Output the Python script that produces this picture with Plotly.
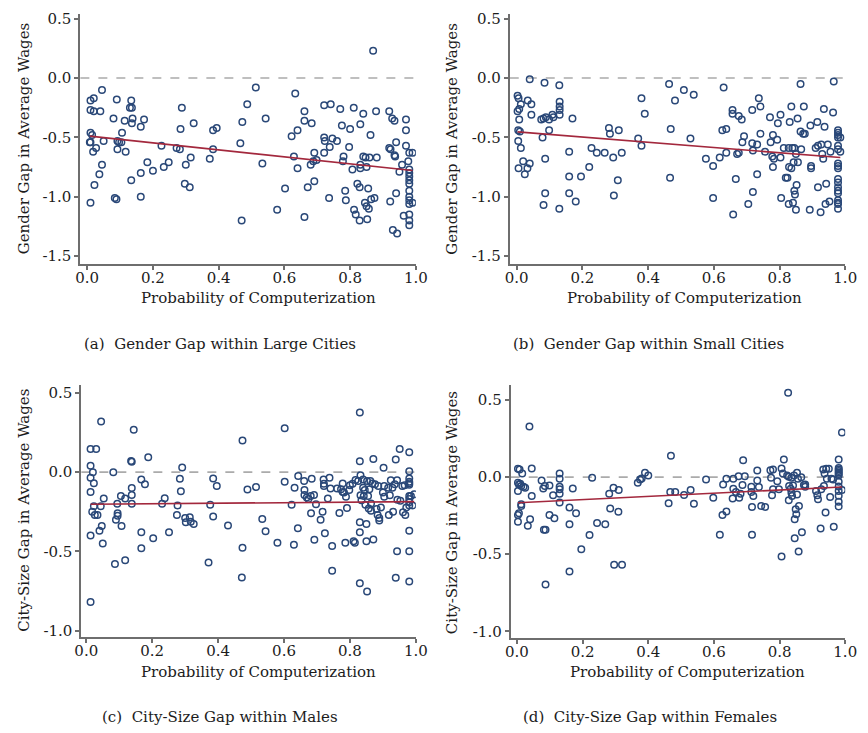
import plotly.graph_objects as go

# ---------------- data ----------------
xa = [0.01,0.02,0.01,0.02,0.045,0.04,0.01,0.015,0.008,0.01,0.018,0.027,0.05,0.045,0.037,0.022,0.01,
      0.09,0.08,0.092,0.097,0.104,0.092,0.106,0.117,0.114,0.134,0.136,0.13,0.138,0.136,0.173,0.163,0.134,0.163,0.084,0.089,0.163,0.183,0.2,
      0.226,0.233,0.248,0.272,0.282,0.284,0.288,0.3,0.297,0.312,0.315,0.324,0.373,0.383,0.383,0.394,
      0.466,0.472,0.47,0.487,0.513,0.533,0.543,0.578,0.602,0.622,0.629,0.633,0.64,0.64,0.661,0.661,0.661,0.671,0.68,0.683,0.688,0.691,0.691,0.698,
      0.721,0.721,0.723,0.721,0.738,0.741,0.736,0.746,0.76,0.77,0.775,0.778,0.78,0.785,0.787,0.8,0.797,0.807,0.811,0.812,0.817,0.822,0.829,0.829,0.831,0.831,0.831,
      0.84,0.84,0.847,0.845,0.85,0.85,0.852,0.855,0.857,0.859,0.862,0.864,0.87,0.874,0.879,0.881,
      0.919,0.919,0.923,0.922,0.928,0.93,0.935,0.935,0.937,0.94,0.94,0.943,0.95,0.958,0.963,0.97,0.97,0.97,0.977,
      0.98,0.98,0.98,0.98,0.98,0.98,0.98,0.98,0.98,0.98,0.98,0.98,0.98,0.99,0.99]
ya = [-0.19,-0.17,-0.27,-0.28,-0.10,-0.28,-0.46,-0.48,-0.54,-0.54,-0.62,-0.59,-0.53,-0.73,-0.81,-0.90,-1.05,
      -0.18,-0.34,-0.53,-0.54,-0.54,-0.60,-0.46,-0.62,-0.36,-0.19,-0.25,-0.25,-0.34,-0.38,-0.35,-0.41,-0.86,-0.80,-1.01,-1.02,-1.00,-0.71,-0.78,
      -0.57,-0.75,-0.71,-0.59,-0.60,-0.43,-0.25,-0.73,-0.89,-0.92,-0.67,-0.38,-0.68,-0.60,-0.44,-0.42,
      -0.55,-0.37,-1.20,-0.22,-0.08,-0.72,-0.34,-1.11,-0.93,-0.49,-0.66,-0.13,-0.44,-0.76,-0.28,-0.36,-1.17,-0.92,-0.73,-0.38,-0.70,-0.63,-0.87,-0.69,
      -0.23,-0.50,-0.53,-0.63,-0.58,-0.22,-1.01,-0.51,-0.53,-0.26,-0.40,-0.70,-0.66,-0.95,-1.03,-0.43,-0.58,-0.77,-0.25,-1.11,-1.15,-0.89,-0.92,-1.20,-0.39,-0.73,-0.76,
      -0.30,-0.66,-0.67,-1.05,-0.75,-1.08,-1.19,-0.93,-1.10,-0.67,-0.48,-1.02,0.23,-1.01,-0.28,-0.67,
      -0.28,-0.59,-0.60,-1.04,-0.34,-1.28,-0.36,-0.65,-0.66,-0.54,-0.97,-1.31,-0.79,-0.73,-1.16,-0.35,-0.57,-0.44,-0.70,
      -0.77,-0.80,-0.83,-0.86,-0.89,-0.95,-1.00,-1.03,-1.06,-1.15,-1.20,-1.24,-0.63,-0.63,-1.05]

xb = [0.003,0.006,0.003,0.008,0.013,0.008,0.005,0.01,0.005,0.013,0.006,0.02,0.025,0.033,0.04,0.034,0.045,0.04,0.045,
      0.075,0.082,0.085,0.079,0.087,0.087,0.082,0.089,0.099,0.099,0.109,0.112,0.13,0.131,0.131,0.131,0.131,0.13,
      0.16,0.16,0.16,0.17,0.18,0.196,0.221,0.228,0.244,0.268,0.281,0.284,0.294,0.296,0.308,0.311,0.32,
      0.37,0.38,0.38,0.39,0.464,0.469,0.467,0.482,0.509,0.529,0.539,0.576,0.598,0.598,
      0.618,0.626,0.63,0.638,0.638,0.657,0.657,0.659,0.667,0.671,0.676,0.676,0.685,0.687,0.692,0.705,
      0.717,0.717,0.719,0.719,0.732,0.732,0.737,0.742,0.742,0.756,0.771,0.773,0.778,0.78,0.783,0.78,0.793,0.795,
      0.803,0.803,0.805,0.813,0.819,0.824,0.828,0.828,0.829,0.831,0.836,0.836,0.839,0.841,0.843,0.845,0.845,0.847,0.85,0.85,0.852,0.855,0.856,
      0.864,0.864,0.866,0.872,0.874,0.877,0.892,0.894,0.896,0.896,0.91,0.915,0.917,0.917,0.925,0.927,0.93,0.933,0.935,0.937,0.94,0.942,0.947,0.952,0.955,0.963,0.965,
      0.978,0.978,0.978,0.978,0.978,0.978,0.978,0.978,0.978,0.978,0.978,0.978,0.978,0.978,0.978,0.978,0.978,0.978,0.985,0.985]
yb = [-0.15,-0.17,-0.28,-0.26,-0.22,-0.35,-0.44,-0.45,-0.53,-0.59,-0.76,-0.70,-0.81,-0.76,-0.72,-0.19,-0.22,-0.01,-0.31,
      -0.35,-0.34,-0.04,-0.50,-0.68,-0.97,-1.07,-0.33,-0.35,-0.44,-0.31,-0.33,-0.06,-0.20,-0.24,-0.27,-0.31,-1.10,
      -0.62,-0.83,-0.97,-0.34,-1.04,-0.83,-0.75,-0.59,-0.63,-0.63,-0.42,-0.47,-0.67,-0.99,-0.86,-0.44,-0.63,
      -0.51,-0.57,-0.17,-0.30,-0.05,-0.43,-0.84,-0.19,-0.10,-0.51,-0.14,-0.68,-0.74,-1.01,
      -0.67,-0.44,-0.08,-0.43,-0.63,-0.27,-0.30,-1.15,-0.85,-0.64,-0.32,-0.63,-0.35,-0.54,-0.49,-1.06,
      -0.27,-0.55,-0.61,-0.96,-0.56,-0.81,-0.17,-0.24,-0.47,-0.62,-0.33,-0.54,-0.66,-0.48,-0.68,-0.75,-0.52,-0.38,
      -0.31,-0.67,-1.01,-0.59,-0.84,-0.84,-0.59,-1.06,-0.75,-0.37,-0.24,-0.76,-0.59,-1.05,-0.71,-0.59,-0.95,-0.98,-1.11,-0.64,-0.90,-0.34,-0.71,
      -0.05,-0.45,-0.60,-0.47,-0.24,-0.47,-1.11,-0.40,-0.74,-0.76,-0.59,-0.37,-0.57,-0.92,-1.13,-0.56,-0.64,-0.68,-0.26,-0.41,-1.06,-0.89,-0.56,-1.04,-0.62,-0.29,-0.03,
      -0.44,-0.46,-0.48,-0.50,-0.57,-0.60,-0.72,-0.74,-0.76,-0.85,-0.88,-0.92,-0.95,-0.97,-1.03,-1.05,-1.06,-1.10,-0.50,-0.62]

xc = [0.013,0.03,0.013,0.013,0.02,0.023,0.013,0.018,0.023,0.026,0.034,0.045,0.053,0.044,0.04,0.047,0.05,0.013,0.013,
      0.082,0.087,0.09,0.094,0.095,0.095,0.105,0.107,0.118,0.118,0.136,0.138,0.138,0.138,0.138,0.144,0.167,0.167,0.167,0.178,0.188,0.203,
      0.23,0.238,0.251,0.275,0.277,0.284,0.287,0.291,0.3,0.302,0.314,0.317,0.326,0.371,0.376,0.385,0.385,0.396,0.43,
      0.472,0.474,0.474,0.489,0.515,0.534,0.544,0.58,0.602,0.602,0.623,0.63,0.632,0.642,0.643,
      0.661,0.662,0.662,0.669,0.674,0.681,0.682,0.684,0.691,0.692,0.697,0.711,0.717,0.72,0.721,0.721,0.724,0.733,0.738,0.741,0.746,0.746,
      0.761,0.768,0.773,0.778,0.778,0.782,0.786,0.788,0.791,0.798,0.8,0.808,0.811,0.815,0.817,0.825,
      0.83,0.83,0.83,0.83,0.83,0.832,0.832,0.835,0.84,0.84,0.842,0.845,0.847,0.85,0.85,0.852,0.852,0.855,0.857,0.859,0.862,0.864,0.864,0.868,0.871,0.871,0.876,
      0.881,0.884,0.886,0.889,0.889,0.894,0.9,0.902,0.904,0.904,0.916,0.918,0.921,0.924,0.929,0.931,0.936,0.939,0.939,0.943,0.943,0.944,0.951,0.953,0.959,0.961,0.966,0.968,0.971,
      0.98,0.98,0.98,0.98,0.98,0.98,0.98,0.98,0.98,0.98,0.98,0.98,0.98,0.985,0.99,0.995]
yc = [0.146,0.146,0.04,-0.035,0.0,-0.07,-0.125,-0.25,-0.215,-0.27,-0.27,0.32,-0.167,-0.215,-0.37,-0.34,-0.45,-0.40,-0.82,
      0.0,-0.58,-0.30,-0.20,-0.26,-0.275,-0.15,-0.34,-0.167,-0.556,0.07,0.065,-0.10,-0.145,-0.20,0.267,-0.046,-0.38,-0.48,-0.077,0.094,-0.417,
      -0.20,-0.165,-0.38,-0.27,-0.21,-0.042,-0.12,0.03,-0.29,-0.317,-0.285,-0.313,-0.327,-0.57,-0.206,-0.04,-0.28,-0.087,-0.337,
      -0.665,0.2,-0.477,-0.11,-0.094,-0.296,-0.373,-0.446,0.277,-0.06,-0.206,-0.458,-0.098,-0.354,-0.025,
      -0.056,-0.112,-0.144,-0.16,-0.17,-0.15,-0.26,-0.042,-0.144,-0.427,-0.202,-0.30,-0.25,-0.046,-0.087,-0.073,-0.385,-0.167,-0.035,-0.104,-0.467,-0.623,
      -0.104,-0.258,-0.108,-0.125,-0.071,-0.129,-0.446,-0.156,-0.227,-0.112,-0.083,-0.073,-0.437,-0.446,-0.05,-0.056,
      0.377,0.069,-0.317,-0.379,-0.702,-0.019,-0.146,-0.177,-0.046,-0.098,-0.15,-0.112,-0.206,-0.327,-0.437,-0.754,-0.056,-0.15,-0.229,-0.108,-0.056,-0.198,-0.244,-0.071,0.083,-0.425,-0.077,
      -0.233,-0.27,-0.087,-0.306,-0.29,-0.223,-0.129,0.027,-0.087,-0.156,-0.098,-0.27,-0.146,-0.052,-0.098,-0.25,-0.077,0.079,-0.667,-0.5,-0.052,-0.175,0.146,-0.181,-0.087,-0.254,-0.083,-0.27,-0.223,
      0.125,0.006,-0.04,-0.06,-0.07,-0.08,-0.15,-0.17,-0.19,-0.21,-0.37,-0.50,-0.69,-0.15,-0.21,-0.14]

xd = [0.003,0.008,0.003,0.006,0.003,0.013,0.01,0.016,0.02,0.025,0.003,0.006,0.003,0.013,0.013,0.033,0.04,0.038,0.045,0.045,
      0.075,0.08,0.085,0.082,0.087,0.087,0.099,0.099,0.11,0.114,0.13,0.13,0.13,0.13,0.13,0.13,
      0.16,0.16,0.16,0.17,0.18,0.196,0.221,0.229,0.244,0.269,0.281,0.284,0.294,0.296,0.309,0.31,0.32,
      0.368,0.375,0.38,0.39,0.4,0.462,0.467,0.469,0.482,0.509,0.529,0.539,0.576,0.598,
      0.618,0.626,0.628,0.638,0.638,0.657,0.659,0.659,0.667,0.675,0.677,0.681,0.687,0.689,0.694,
      0.714,0.714,0.716,0.716,0.72,0.732,0.732,0.737,0.744,0.756,0.772,0.774,0.777,0.78,0.78,0.793,0.798,
      0.806,0.806,0.81,0.813,0.823,0.826,0.828,0.828,0.829,0.834,0.836,0.836,0.838,0.841,0.844,0.846,0.846,0.849,0.851,0.853,0.853,0.856,0.858,0.859,0.866,0.868,0.874,0.878,0.878,
      0.911,0.915,0.917,0.925,0.927,0.933,0.935,0.937,0.94,0.942,0.944,0.95,0.954,0.958,0.963,0.965,
      0.98,0.98,0.98,0.98,0.98,0.98,0.98,0.98,0.98,0.98,0.98,0.98,0.98,0.99,0.99]
yd = [0.054,0.049,-0.036,-0.047,-0.09,-0.058,-0.043,0.024,-0.062,-0.069,-0.245,-0.234,-0.29,-0.176,-0.187,-0.316,-0.273,0.328,0.056,-0.122,
      -0.021,-0.073,-0.058,-0.341,-0.341,-0.697,-0.054,-0.245,-0.118,-0.266,0.024,-0.011,-0.062,-0.079,-0.107,-0.165,
      -0.197,-0.305,-0.612,-0.073,-0.234,-0.468,-0.375,-0.004,-0.298,-0.305,-0.107,-0.204,-0.069,-0.569,-0.225,-0.084,-0.569,
      -0.036,-0.015,-0.009,0.028,0.011,-0.17,-0.097,0.139,-0.097,-0.116,-0.084,-0.172,-0.015,-0.133,
      -0.373,-0.245,-0.047,-0.011,-0.223,-0.139,-0.075,-0.011,-0.097,0.006,-0.133,-0.107,-0.051,0.109,0.006,
      -0.062,-0.097,-0.193,-0.373,-0.122,0.043,-0.021,-0.064,-0.187,-0.193,0.045,-0.004,-0.118,0.049,-0.079,-0.026,-0.079,
      0.056,-0.515,0.024,0.114,0.011,0.547,0.002,-0.15,-0.058,-0.075,-0.004,-0.101,-0.122,-0.054,0.011,-0.273,-0.397,-0.208,-0.24,0.028,-0.112,-0.011,-0.483,-0.187,0.0,-0.358,-0.051,-0.047,-0.062,
      -0.09,-0.118,-0.144,-0.333,-0.079,0.049,-0.058,0.024,-0.23,0.054,-0.011,0.054,-0.129,-0.011,-0.015,-0.322,
      0.114,0.06,0.05,0.04,0.03,0.02,0.01,-0.03,-0.06,-0.09,-0.12,-0.16,-0.19,0.29,-0.084]

# fitted line (intercept, slope)
fit_a = [-0.487, -0.295]
fit_b = [-0.453, -0.220]
fit_c = [-0.203, 0.017]
fit_d = [-0.166, 0.103]

x_title = "Probability of Computerization"
y_titles = ["Gender Gap in Average Wages", "Gender Gap in Average Wages",
            "City-Size Gap in Average Wages", "City-Size Gap in Average Wages"]
captions = ["(a)  Gender Gap within Large Cities", "(b)  Gender Gap within Small Cities",
            "(c)  City-Size Gap within Males", "(d)  City-Size Gap within Females"]
x_ticks = [0.0, 0.2, 0.4, 0.6, 0.8, 1.0]
y_ticks_top = [0.5, 0.0, -0.5, -1.0, -1.5]
y_ticks_bot = [0.5, 0.0, -0.5, -1.0]

# ---------------- layout helpers ----------------
W, H = 868, 733
FONT = "DejaVu Serif"
FS = 15
TXT = "#1c1c1c"
NAVY = "#2a4878"
RED = "#a3283d"

def px(x):
    return x / W

def py(y):
    return 1 - y / H

panels = [
    dict(x=xa, y=ya, fit=fit_a, xdom=(75, 418), ydom=(10, 263), xr=[-0.0208, 1.0], yr=[-1.57, 0.54], yt=y_ticks_top,
         ytx=17, yty=136, xtx=257, xty=297, capx=218, capy=343),
    dict(x=xb, y=yb, fit=fit_b, xdom=(514, 857), ydom=(10, 263), xr=[-0.0208, 1.0], yr=[-1.57, 0.54], yt=y_ticks_top,
         ytx=455, yty=136, xtx=693, xty=297, capx=656, capy=343),
    dict(x=xc, y=yc, fit=fit_c, xdom=(76, 418), ydom=(385, 639), xr=[-0.015, 1.0], yr=[-1.04, 0.548], yt=y_ticks_bot,
         ytx=17, yty=511, xtx=257, xty=674, capx=218, capy=720),
    dict(x=xd, y=yd, fit=fit_d, xdom=(515, 857), ydom=(385, 640), xr=[-0.019, 1.0], yr=[-1.043, 0.596], yt=y_ticks_bot,
         ytx=455, yty=514, xtx=696, xty=674, capx=657, capy=720),
]

fig = go.Figure()
layout = dict(width=W, height=H, margin=dict(l=0, r=0, t=0, b=0),
              paper_bgcolor="white", plot_bgcolor="white", showlegend=False,
              font=dict(family=FONT, size=FS, color=TXT))
annotations = []
shapes = []

for i, p in enumerate(panels):
    k = "" if i == 0 else str(i + 1)
    xa_name, ya_name = "x" + k, "y" + k
    fig.add_trace(go.Scatter(x=p["x"], y=p["y"], mode="markers", xaxis=xa_name, yaxis=ya_name,
                             marker=dict(symbol="circle-open", size=6.5, color=NAVY, line=dict(width=1.5, color=NAVY)),
                             hoverinfo="skip"))
    x0, x1 = min(p["x"]), max(p["x"])
    b0, b1 = p["fit"]
    fig.add_trace(go.Scatter(x=[x0, x1], y=[b0 + b1 * x0, b0 + b1 * x1], mode="lines",
                             xaxis=xa_name, yaxis=ya_name, line=dict(color=RED, width=1.6), hoverinfo="skip"))
    shapes.append(dict(type="line", xref=xa_name + " domain", yref=ya_name, x0=0, x1=1, y0=0, y1=0,
                       line=dict(color="#ababab", width=1.6, dash="dash"), layer="below"))
    axis_common = dict(showgrid=False, zeroline=False, showline=True, linecolor="#6e6e6e", linewidth=2,
                       ticks="outside", ticklen=4, tickwidth=1.5, tickcolor="#6e6e6e",
                       tickfont=dict(family=FONT, size=FS, color=TXT))
    layout["xaxis" + k] = dict(axis_common, domain=[px(p["xdom"][0]), px(p["xdom"][1])],
                               range=p["xr"], tickvals=x_ticks, ticktext=[f"{v:.1f}" for v in x_ticks],
                               anchor=ya_name, fixedrange=True, ticklabelstandoff=-5)
    layout["yaxis" + k] = dict(axis_common, domain=[py(p["ydom"][1]), py(p["ydom"][0])],
                               range=p["yr"], tickvals=p["yt"], ticktext=[f"{v:.1f}" for v in p["yt"]],
                               anchor=xa_name, fixedrange=True)
    annotations.append(dict(text=y_titles[i], x=px(p["ytx"]), y=py(p["yty"]), xref="paper", yref="paper",
                            textangle=-90, showarrow=False, xanchor="center", yanchor="middle",
                            font=dict(family=FONT, size=FS, color=TXT)))
    annotations.append(dict(text=x_title, x=px(p["xtx"]), y=py(p["xty"]), xref="paper", yref="paper",
                            showarrow=False, xanchor="center", yanchor="middle",
                            font=dict(family=FONT, size=FS, color=TXT)))
    annotations.append(dict(text=captions[i], x=px(p["capx"]), y=py(p["capy"]), xref="paper", yref="paper",
                            showarrow=False, xanchor="center", yanchor="middle",
                            font=dict(family=FONT, size=FS, color=TXT)))

layout["annotations"] = annotations
layout["shapes"] = shapes
fig.update_layout(**layout)
fig.write_html("out.html")
